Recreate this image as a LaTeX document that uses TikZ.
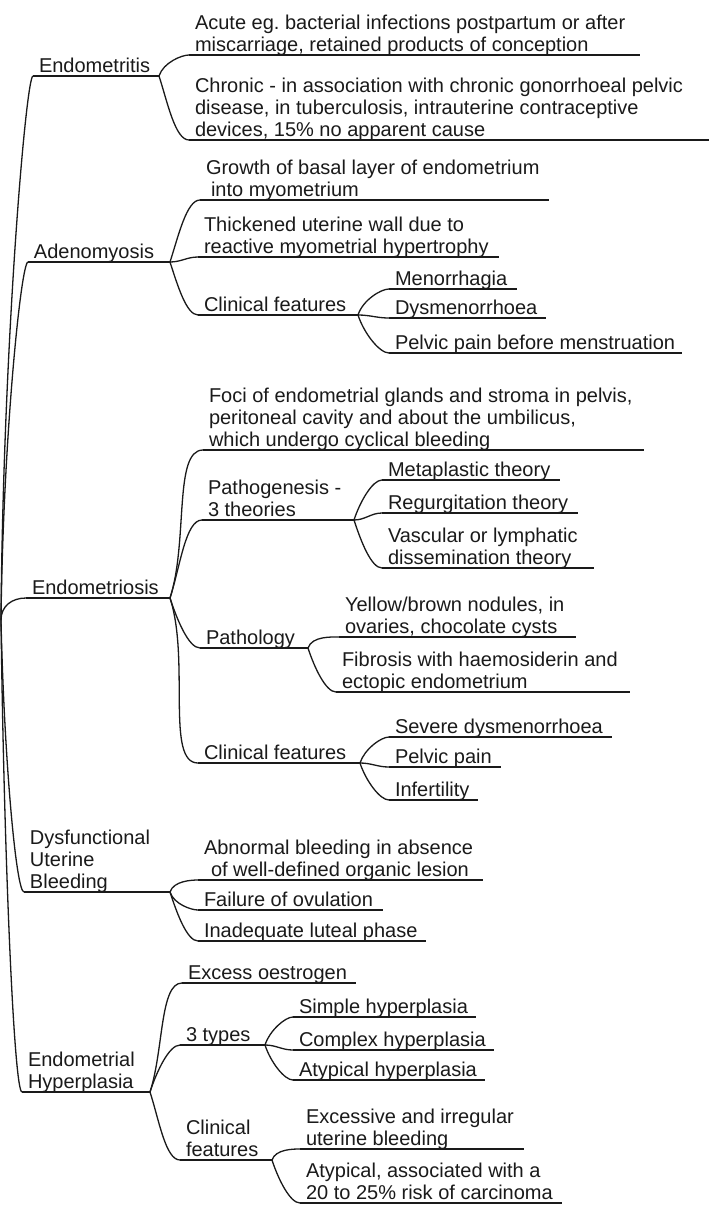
\documentclass[tikz,border=0pt]{standalone}
\usepackage{fontspec}
\setmainfont{Liberation Sans}
\usepackage{tikz}
\frenchspacing
\definecolor{ink}{HTML}{1A1A1A}
\tikzset{
	leaf/.style={anchor=south west, inner xsep=6pt, inner ysep=4pt, outer sep=0pt,
		text depth=0pt, align=left, text=ink},
	twig/.style={draw=ink, line width=1.3pt},
	rise/.style={out=72, in=180, in looseness=0.5},
	fall/.style={out=-72, in=180, in looseness=0.5},
	flat/.style={out=0, in=180},
}
\begin{document}
\begin{tikzpicture}[x=1pt, y=1pt, font=\fontsize{20}{22}\selectfont]
	\fill[white] (0,0) rectangle (711,-1211);
	\useasboundingbox (0,0) rectangle (711,-1211);
	\coordinate (root) at (1,-620);

	% Endometritis
	\node[leaf] (emt) at (33,-76) {Endometritis};
	\draw[twig] (emt.south west) -- ++(126,0) coordinate (emt-j);
	\node[leaf] (acute) at (189,-55) {Acute eg.\ bacterial infections postpartum or after\\miscarriage, retained products of conception};
	\draw[twig] (acute.south west) -- ++(451,0);
	\node[leaf] (chronic) at (189,-140) {Chronic - in association with chronic gonorrhoeal pelvic\\disease, in tuberculosis, intrauterine contraceptive\\devices, 15\% no apparent cause};
	\draw[twig] (chronic.south west) -- ++(520,0);
	\draw[twig] (emt-j) to[rise] (acute.south west);
	\draw[twig] (emt-j) to[fall] (chronic.south west);

	% Adenomyosis
	\node[leaf] (adm) at (28,-262) {Adenomyosis};
	\draw[twig] (adm.south west) -- ++(142,0) coordinate (adm-j);
	\node[leaf] (growth) at (200,-200) {Growth of basal layer of endometrium\\\hspace*{5pt}into myometrium};
	\draw[twig] (growth.south west) -- ++(349,0);
	\node[leaf] (thick) at (198,-257) {Thickened uterine wall due to\\reactive myometrial hypertrophy};
	\draw[twig] (thick.south west) -- ++(301,0);
	\node[leaf] (admclin) at (198,-315) {Clinical features};
	\draw[twig] (admclin.south west) -- ++(160,0) coordinate (admclin-j);
	\node[leaf] (men) at (389,-289) {Menorrhagia};
	\draw[twig] (men.south west) -- ++(128,0);
	\node[leaf] (dys) at (389,-318) {Dysmenorrhoea};
	\draw[twig] (dys.south west) -- ++(157,0);
	\node[leaf] (admpain) at (389,-353) {Pelvic pain before menstruation};
	\draw[twig] (admpain.south west) -- ++(293,0);
	\draw[twig] (adm-j) to[rise] (growth.south west);
	\draw[twig] (adm-j) to[flat] (thick.south west);
	\draw[twig] (adm-j) to[fall] (admclin.south west);
	\draw[twig] (admclin-j) to[rise] (men.south west);
	\draw[twig] (admclin-j) to[flat] (dys.south west);
	\draw[twig] (admclin-j) to[fall] (admpain.south west);

	% Endometriosis
	\node[leaf] (emo) at (26,-598) {Endometriosis};
	\draw[twig] (emo.south west) -- ++(144,0) coordinate (emo-j);
	\node[leaf] (foci) at (203,-450) {Foci of endometrial glands and stroma in pelvis,\\peritoneal cavity and about the umbilicus,\\which undergo cyclical bleeding};
	\draw[twig] (foci.south west) -- ++(441,0);
	\node[leaf] (path) at (202,-520) {Pathogenesis -\\3 theories};
	\draw[twig] (path.south west) -- ++(152,0) coordinate (path-j);
	\node[leaf] (meta) at (382,-480) {Metaplastic theory};
	\draw[twig] (meta.south west) -- ++(178,0);
	\node[leaf] (reg) at (382,-513) {Regurgitation theory};
	\draw[twig] (reg.south west) -- ++(196,0);
	\node[leaf] (vasc) at (382,-568) {Vascular or lymphatic\\dissemination theory};
	\draw[twig] (vasc.south west) -- ++(212,0);
	\node[leaf] (patho) at (200,-648) {Pathology};
	\draw[twig] (patho.south west) -- ++(108,0) coordinate (patho-j);
	\node[leaf] (yellow) at (339,-637) {Yellow/brown nodules, in\\ovaries, chocolate cysts};
	\draw[twig] (yellow.south west) -- ++(237,0);
	\node[leaf] (fib) at (336,-692) {Fibrosis with haemosiderin and\\ectopic endometrium};
	\draw[twig] (fib.south west) -- ++(294,0);
	\node[leaf] (emoclin) at (198,-763) {Clinical features};
	\draw[twig] (emoclin.south west) -- ++(162,0) coordinate (emoclin-j);
	\node[leaf] (sev) at (389,-737) {Severe dysmenorrhoea};
	\draw[twig] (sev.south west) -- ++(223,0);
	\node[leaf] (emopain) at (389,-767) {Pelvic pain};
	\draw[twig] (emopain.south west) -- ++(112,0);
	\node[leaf] (inf) at (389,-800) {Infertility};
	\draw[twig] (inf.south west) -- ++(89,0);
	\draw[twig] (emo-j) to[rise] (foci.south west);
	\draw[twig] (emo-j) to[rise] (path.south west);
	\draw[twig] (emo-j) to[fall] (patho.south west);
	\draw[twig] (emo-j) to[fall] (emoclin.south west);
	\draw[twig] (path-j) to[rise] (meta.south west);
	\draw[twig] (path-j) to[flat] (reg.south west);
	\draw[twig] (path-j) to[fall] (vasc.south west);
	\draw[twig] (patho-j) to[rise] (yellow.south west);
	\draw[twig] (patho-j) to[fall] (fib.south west);
	\draw[twig] (emoclin-j) to[rise] (sev.south west);
	\draw[twig] (emoclin-j) to[flat] (emopain.south west);
	\draw[twig] (emoclin-j) to[fall] (inf.south west);

	% Dysfunctional uterine bleeding
	\node[leaf] (dub) at (24,-892) {Dysfunctional\\Uterine\\Bleeding};
	\draw[twig] (dub.south west) -- ++(146,0) coordinate (dub-j);
	\node[leaf] (abn) at (198,-880) {Abnormal bleeding in absence\\\hspace*{7pt}of well-defined organic lesion};
	\draw[twig] (abn.south west) -- ++(285,0);
	\node[leaf] (fail) at (198,-910) {Failure of ovulation};
	\draw[twig] (fail.south west) -- ++(185,0);
	\node[leaf] (inad) at (198,-941) {Inadequate luteal phase};
	\draw[twig] (inad.south west) -- ++(228,0);
	\draw[twig] (dub-j) to[rise] (abn.south west);
	\draw[twig] (dub-j) to[fall] (fail.south west);
	\draw[twig] (dub-j) to[fall] (inad.south west);

	% Endometrial hyperplasia
	\node[leaf] (ehp) at (22,-1092) {Endometrial\\Hyperplasia};
	\draw[twig] (ehp.south west) -- ++(128,0) coordinate (ehp-j);
	\node[leaf] (excess) at (182,-983) {Excess oestrogen};
	\draw[twig] (excess.south west) -- ++(174,0);
	\node[leaf] (types) at (180,-1045) {3 types};
	\draw[twig] (types.south west) -- ++(85,0) coordinate (types-j);
	\node[leaf] (simple) at (293,-1017) {Simple hyperplasia};
	\draw[twig] (simple.south west) -- ++(183,0);
	\node[leaf] (complex) at (293,-1050) {Complex hyperplasia};
	\draw[twig] (complex.south west) -- ++(201,0);
	\node[leaf] (atyp) at (293,-1080) {Atypical hyperplasia};
	\draw[twig] (atyp.south west) -- ++(192,0);
	\node[leaf] (ehpclin) at (180,-1160) {Clinical\\features};
	\draw[twig] (ehpclin.south west) -- ++(92,0) coordinate (ehpclin-j);
	\node[leaf] (exc) at (300,-1149) {Excessive and irregular\\uterine bleeding};
	\draw[twig] (exc.south west) -- ++(224,0);
	\node[leaf] (risk) at (300,-1203) {Atypical, associated with a\\20 to 25\% risk of carcinoma};
	\draw[twig] (risk.south west) -- ++(262,0);
	\draw[twig] (ehp-j) to[rise] (excess.south west);
	\draw[twig] (ehp-j) to[rise] (types.south west);
	\draw[twig] (ehp-j) to[fall] (ehpclin.south west);
	\draw[twig] (types-j) to[rise] (simple.south west);
	\draw[twig] (types-j) to[flat] (complex.south west);
	\draw[twig] (types-j) to[fall] (atyp.south west);
	\draw[twig] (ehpclin-j) to[rise] (exc.south west);
	\draw[twig] (ehpclin-j) to[fall] (risk.south west);

	% trunk
	\draw[twig] (root) .. controls +(2,272) and +(-7,0) .. (emt.south west);
	\draw[twig] (root) .. controls +(2,179) and +(-7,0) .. (adm.south west);
	\draw[twig] (root) .. controls +(0,14) and +(-14,0) .. (emo.south west);
	\draw[twig] (root) .. controls +(3,-136) and +(-8,0) .. (dub.south west);
	\draw[twig] (root) .. controls +(3,-236) and +(-8,0) .. (ehp.south west);
\end{tikzpicture}
\end{document}
